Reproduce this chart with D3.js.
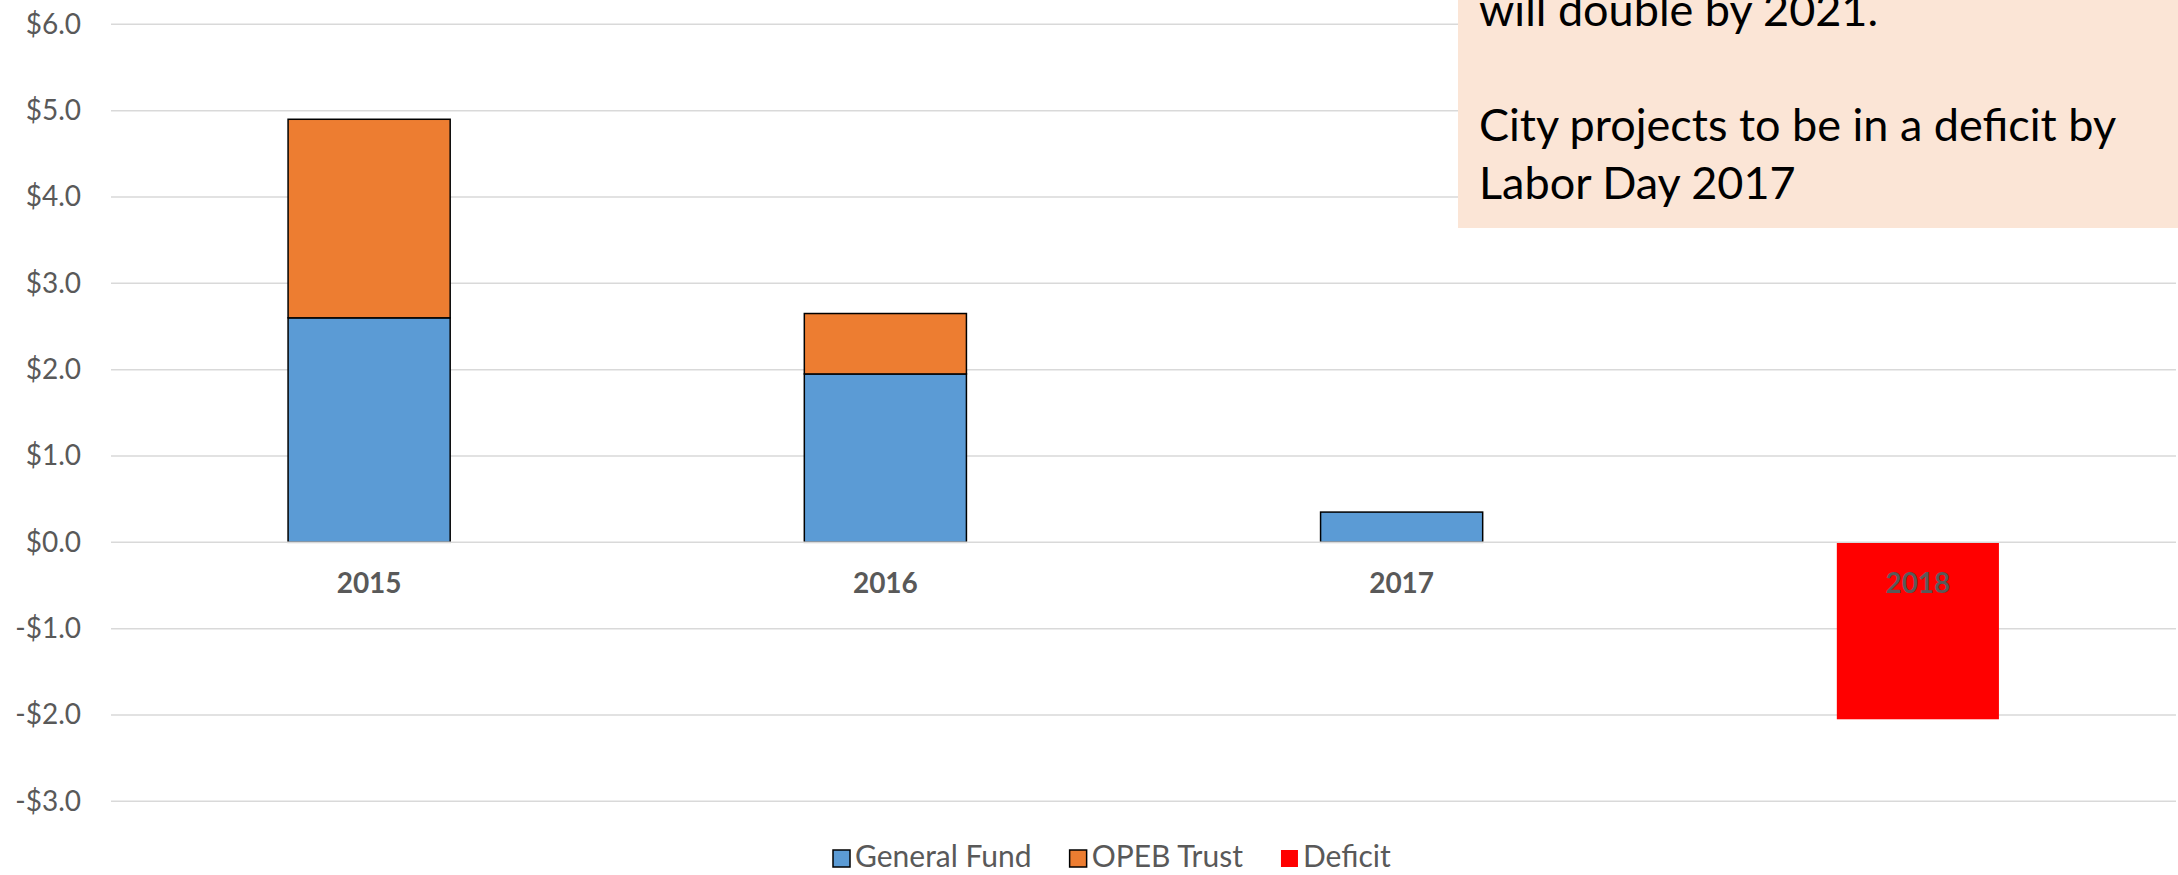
<!DOCTYPE html>
<meta charset="utf-8">
<style>
  body { margin: 0; background: #fff; }
  text { font-family: Lato, "Open Sans", sans-serif; }
</style>

<!-- Load d3.js -->
<script src="https://d3js.org/d3.v7.min.js"></script>

<div id="chart"></div>

<script>
    // data ($ millions)
    const years = ["2015", "2016", "2017", "2018"];
    const generalFund = [2.6, 1.95, 0.35, 0];
    const opebTrust = [2.3, 0.7, 0, 0];
    const deficit = [0, 0, 0, -2.05];
    const yTicks = [6, 5, 4, 3, 2, 1, 0, -1, -2, -3];
    const seriesNames = ["General Fund", "OPEB Trust", "Deficit"];
    const noteLines = ["will double by 2021.", "", "City projects to be in a deficit by", "Labor Day 2017"];

    const width = 2178, height = 875;
    const colors = {"General Fund": "#5B9BD5", "OPEB Trust": "#ED7D31", "Deficit": "#FF0000"};
    const outlined = {"General Fund": true, "OPEB Trust": true, "Deficit": false};

    const svg = d3.select("#chart")
        .append("svg")
            .attr("width", width)
            .attr("height", height);

    // scales
    const x = d3.scaleBand()
        .domain(years)
        .range([111, 2176])
        .paddingInner(0.686)
        .paddingOuter(0.343);

    const y = d3.scaleLinear()
        .domain([-3, 6])
        .range([801.3, 24.3]);

    // gridlines
    svg.append("g")
        .selectAll("line")
        .data(yTicks.filter(d => d !== 0))
        .enter()
        .append("line")
          .attr("x1", 111)
          .attr("x2", 2176)
          .attr("y1", d => y(d))
          .attr("y2", d => y(d))
          .style("stroke", "#d9d9d9")
          .style("stroke-width", 1.5);

    // y axis labels
    const yAxis = svg.append("g")
        .attr("transform", "translate(81,0)")
        .call(d3.axisLeft(y).tickValues(yTicks).tickSize(0).tickPadding(0)
            .tickFormat(d => (d < 0 ? "-" : "") + "$" + Math.abs(d).toFixed(1)));
    yAxis.select(".domain").remove();
    yAxis.selectAll("text")
        .style("font-family", "Lato, sans-serif")
        .style("font-size", "28px")
        .style("fill", "#595959");

    // stacked bars
    const table = years.map((yr, i) => ({
        year: yr,
        "General Fund": generalFund[i],
        "OPEB Trust": opebTrust[i],
        "Deficit": deficit[i]
    }));
    const stacked = d3.stack()
        .keys(seriesNames)
        .offset(d3.stackOffsetDiverging)(table);

    svg.append("g")
        .selectAll("g")
        .data(stacked)
        .enter()
        .append("g")
          .style("fill", d => colors[d.key])
          .style("stroke", d => outlined[d.key] ? "#000" : "none")
          .style("stroke-width", 1.5)
        .selectAll("rect")
        .data(d => d.filter(p => p[1] !== p[0]))
        .enter()
        .append("rect")
          .attr("x", d => x(d.data.year))
          .attr("width", x.bandwidth())
          .attr("y", d => y(Math.max(d[0], d[1])))
          .attr("height", d => Math.abs(y(d[0]) - y(d[1])));

    // zero line on top of the bars
    svg.append("line")
        .attr("x1", 111)
        .attr("x2", 2176)
        .attr("y1", y(0))
        .attr("y2", y(0))
        .style("stroke", "#d9d9d9")
        .style("stroke-width", 1.5);

    // category labels
    svg.append("g")
        .selectAll("text")
        .data(years)
        .enter()
        .append("text")
          .attr("x", d => x(d) + x.bandwidth() / 2)
          .attr("y", 593)
          .attr("text-anchor", "middle")
          .style("font-size", "28px")
          .style("font-weight", "bold")
          .style("fill", "#595959")
          .text(d => d);

    // note box (runs off the top and right edge)
    svg.append("rect")
        .attr("x", 1458)
        .attr("y", -10)
        .attr("width", width - 1458 + 10)
        .attr("height", 238)
        .style("fill", "#FBE5D6");

    svg.append("g")
        .selectAll("text")
        .data(noteLines)
        .enter()
        .append("text")
          .attr("x", 1479)
          .attr("y", (d, i) => 26 + i * 57.7)
          .style("font-size", "45px")
          .style("fill", "#000")
          .text(d => d);

    // legend
    const legend = svg.append("g");
    let lx = 833;
    seriesNames.forEach(name => {
        legend.append("rect")
            .attr("x", lx)
            .attr("y", 850)
            .attr("width", 17)
            .attr("height", 17)
            .style("fill", colors[name])
            .style("stroke", outlined[name] ? "#000" : "none")
            .style("stroke-width", 1.5);
        const t = legend.append("text")
            .attr("x", lx + 22)
            .attr("y", 867)
            .style("font-size", "30px")
            .style("fill", "#595959")
            .text(name);
        lx += 22 + t.node().getComputedTextLength() + 38;
    });
</script>
